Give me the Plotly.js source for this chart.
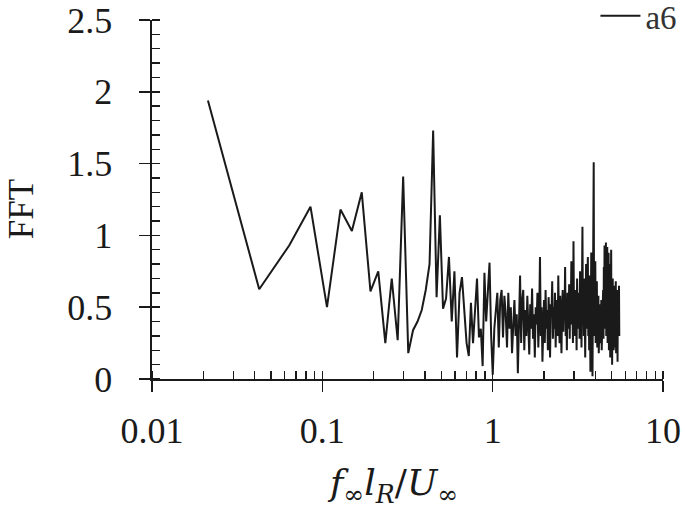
<!DOCTYPE html>
<html>
<head>
<meta charset="utf-8">
<script src="https://cdn.plot.ly/plotly-3.0.1.min.js"></script>
<style>html,body{margin:0;padding:0;background:#fff;}#chart{width:685px;height:508px;}</style>
</head>
<body>
<div id="chart"></div>
<script>
// Non-dimensional frequency f∞ lR / U∞
const freq = [
0.0213,0.0426,0.0639,0.0852,0.1065,0.1278,0.1491,0.1704,0.1917,0.2130,
0.2343,0.2556,0.2769,0.2982,0.3195,0.3408,0.3621,0.3834,0.4047,0.4260,
0.4473,0.4686,0.4899,0.5112,0.5325,0.5538,0.5751,0.5964,0.6177,0.6390,
0.6603,0.6816,0.7029,0.7242,0.7455,0.7668,0.7881,0.8094,0.8307,0.8520,
0.8733,0.8946,0.9159,0.9372,0.9585,0.9798,1.0011,1.0224,1.0437,1.0650,
1.0863,1.1076,1.1289,1.1502,1.1715,1.1928,1.2141,1.2354,1.2567,1.2780,
1.2993,1.3206,1.3419,1.3632,1.3845,1.4058,1.4271,1.4484,1.4697,1.4910,
1.5123,1.5336,1.5549,1.5762,1.5975,1.6188,1.6401,1.6614,1.6827,1.7040,
1.7253,1.7466,1.7679,1.7892,1.8105,1.8318,1.8531,1.8744,1.8957,1.9170,
1.9383,1.9596,1.9809,2.0022,2.0235,2.0448,2.0661,2.0874,2.1087,2.1300,
2.1513,2.1726,2.1939,2.2152,2.2365,2.2578,2.2791,2.3004,2.3217,2.3430,
2.3643,2.3856,2.4069,2.4282,2.4495,2.4708,2.4921,2.5134,2.5347,2.5560,
2.5773,2.5986,2.6199,2.6412,2.6625,2.6838,2.7051,2.7264,2.7477,2.7690,
2.7903,2.8116,2.8329,2.8542,2.8755,2.8968,2.9181,2.9394,2.9607,2.9820,
3.0033,3.0246,3.0459,3.0672,3.0885,3.1098,3.1311,3.1524,3.1737,3.1950,
3.2163,3.2376,3.2589,3.2802,3.3015,3.3228,3.3441,3.3654,3.3867,3.4080,
3.4293,3.4506,3.4719,3.4932,3.5145,3.5358,3.5571,3.5784,3.5997,3.6210,
3.6423,3.6636,3.6849,3.7062,3.7275,3.7488,3.7701,3.7914,3.8127,3.8340,
3.8553,3.8766,3.8979,3.9192,3.9405,3.9618,3.9831,4.0044,4.0257,4.0470,
4.0683,4.0896,4.1109,4.1322,4.1535,4.1748,4.1961,4.2174,4.2387,4.2600,
4.2813,4.3026,4.3239,4.3452,4.3665,4.3878,4.4091,4.4304,4.4517,4.4730,
4.4943,4.5156,4.5369,4.5582,4.5795,4.6008,4.6221,4.6434,4.6647,4.6860,
4.7073,4.7286,4.7499,4.7712,4.7925,4.8138,4.8351,4.8564,4.8777,4.8990,
4.9203,4.9416,4.9629,4.9842,5.0055,5.0268,5.0481,5.0694,5.0907,5.1120,
5.1333,5.1546,5.1759,5.1972,5.2185,5.2398,5.2611,5.2824,5.3037,5.3250,
5.3463,5.3676,5.3889,5.4102,5.4315,5.4528,5.4741,5.4954,5.5167,5.5380
];

// FFT amplitude, series "a6"
const fftA6 = [
1.94,0.625,0.93,1.20,0.50,1.18,1.03,1.30,0.61,0.75,
0.25,0.70,0.27,1.41,0.18,0.34,0.40,0.48,0.62,0.80,
1.73,0.57,1.14,0.49,0.56,0.85,0.40,0.75,0.15,0.60,
0.71,0.45,0.25,0.16,0.53,0.25,0.45,0.70,0.29,0.35,
0.09,0.74,0.40,0.60,0.81,0.30,0.03,0.35,0.50,0.60,
0.22,0.55,0.62,0.29,0.58,0.45,0.22,0.60,0.35,0.50,
0.18,0.40,0.55,0.30,0.45,0.04,0.35,0.72,0.25,0.55,
0.62,0.20,0.48,0.30,0.58,0.40,0.17,0.52,0.35,0.63,
0.28,0.45,0.15,0.50,0.38,0.60,0.22,0.42,0.85,0.30,
0.50,0.12,0.45,0.55,0.25,0.62,0.35,0.48,0.20,0.57,
0.38,0.15,0.52,0.45,0.68,0.28,0.50,0.35,0.60,0.22,
0.47,0.55,0.30,0.72,0.40,0.25,0.58,0.45,0.18,0.50,
0.62,0.33,0.55,0.42,0.78,0.30,0.48,0.20,0.60,0.52,
0.35,0.66,0.28,0.55,0.45,0.82,0.38,0.50,0.25,0.96,
0.40,0.58,0.30,0.62,0.48,0.20,0.70,0.42,0.55,0.35,
0.60,0.28,0.75,0.45,0.52,0.22,0.65,1.06,0.40,0.58,
0.30,0.70,0.48,0.15,0.62,0.80,0.35,0.55,0.42,0.85,
0.30,0.60,0.20,0.72,0.50,0.05,0.65,0.88,0.38,0.60,
0.02,0.75,0.45,1.51,0.30,0.62,0.40,0.82,0.25,0.55,
0.48,0.68,0.22,0.50,0.35,0.58,0.18,0.45,0.30,0.52,
0.25,0.48,0.35,0.55,0.20,0.45,0.30,0.52,0.62,0.28,
0.78,0.40,0.93,0.35,0.85,0.50,0.95,0.30,0.70,0.45,
0.92,0.25,0.60,0.38,0.88,0.20,0.65,0.45,0.80,0.15,
0.55,0.35,0.90,0.28,0.62,0.10,0.48,0.70,0.30,0.55,
0.20,0.65,0.40,0.58,0.22,0.50,0.35,0.68,0.18,0.45,
0.60,0.28,0.52,0.12,0.62,0.40,0.55,0.30,0.65,0.30
];

const seriesName = 'a6';
const yTickVals = [0, 0.5, 1, 1.5, 2, 2.5];
const xTickVals = [0.01, 0.1, 1, 10];
const xTickText = ['0.01', '0.1', '1', '10'];

const serif = 'Liberation Serif, Times New Roman, serif';
const ink = '#1a1a1a';

const traces = [
  {
    x: freq, y: fftA6, type: 'scatter', mode: 'lines', name: seriesName,
    line: {color: ink, width: 2}
  },
  {
    x: [], y: [], xaxis: 'x2', yaxis: 'y2', type: 'scatter', mode: 'lines',
    showlegend: false, hoverinfo: 'skip'
  }
];

const layout = {
  width: 685, height: 508,
  margin: {l: 152, r: 21.5, t: 20, b: 129, autoexpand: false},
  paper_bgcolor: '#fff', plot_bgcolor: '#fff',
  font: {family: serif, color: ink, size: 36},
  showlegend: true,
  legend: {
    x: 1.038, xanchor: 'right', y: 1.012, yanchor: 'middle',
    bgcolor: 'rgba(0,0,0,0)', font: {family: serif, size: 33, color: '#333'},
    itemwidth: 40, tracegroupgap: 0
  },
  xaxis: {
    type: 'log', range: [-2, 1],
    tickvals: xTickVals, ticktext: xTickText,
    showline: true, linecolor: ink, linewidth: 1.6,
    ticks: 'outside', ticklen: 11, tickwidth: 1.6, tickcolor: ink,
    ticklabelstandoff: 8,
    showgrid: false, zeroline: false,
    tickfont: {family: serif, size: 36, color: ink},
    minor: {ticks: 'inside', ticklen: 8, tickwidth: 1.4, tickcolor: ink, dtick: 'D1', showgrid: false}
  },
  yaxis: {
    range: [0, 2.5],
    tickvals: yTickVals,
    showline: true, linecolor: ink, linewidth: 1.6,
    ticks: 'outside', ticklen: 11, tickwidth: 1.6, tickcolor: ink,
    ticklabelstandoff: 20,
    showgrid: false, zeroline: false,
    tickfont: {family: serif, size: 36, color: ink},
    minor: {ticks: 'inside', ticklen: 8, tickwidth: 1.4, tickcolor: ink, dtick: 0.1, showgrid: false}
  },
  xaxis2: {
    type: 'log', range: [-2, 1], overlaying: 'x', anchor: 'y2', side: 'bottom',
    tickvals: xTickVals, ticks: 'inside', ticklen: 8, tickwidth: 1.6, tickcolor: ink,
    showticklabels: false, showline: false, showgrid: false, zeroline: false
  },
  yaxis2: {
    range: [0, 2.5], overlaying: 'y', anchor: 'x2', side: 'left',
    tickvals: yTickVals, ticks: 'inside', ticklen: 8, tickwidth: 1.6, tickcolor: ink,
    showticklabels: false, showline: false, showgrid: false, zeroline: false
  },
  annotations: [
    {
      text: 'FFT', xref: 'paper', yref: 'paper', x: -0.256, y: 0.4735,
      xanchor: 'center', yanchor: 'middle', textangle: -90, showarrow: false,
      font: {family: serif, size: 35, color: ink}
    },
    {
      text: '<i>f</i><sub>∞</sub><i>l</i><sub><i>R</i></sub>/<i>U</i><sub>∞</sub>',
      xref: 'paper', yref: 'paper', x: 0.47, y: -0.296,
      xanchor: 'center', yanchor: 'middle', showarrow: false,
      font: {family: 'DejaVu Serif, serif', size: 36, color: ink}
    }
  ]
};

Plotly.newPlot('chart', traces, layout, {displayModeBar: false, staticPlot: true});
</script>
</body>
</html>
